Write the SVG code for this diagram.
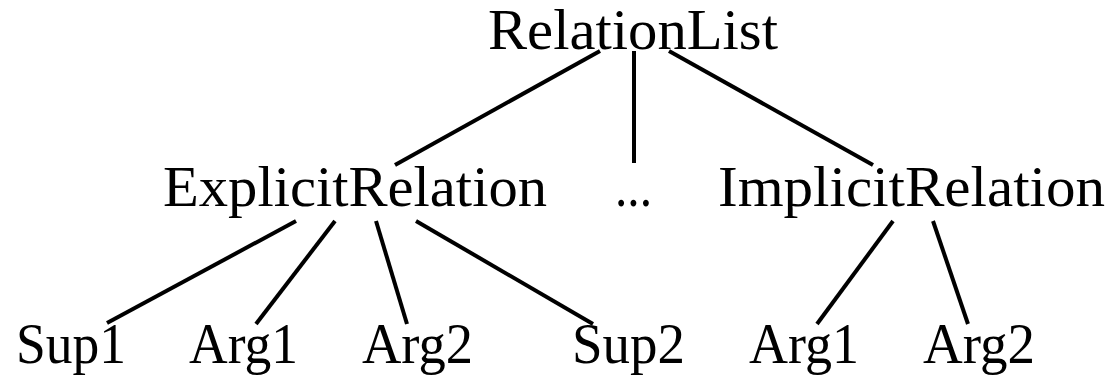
<svg xmlns="http://www.w3.org/2000/svg" width="1115" height="379" viewBox="0 0 1115 379">
<style>
  text { font-family: "Liberation Serif", "Times New Roman", serif; font-size: 57px; fill: #000; }
  .edge { stroke: #000; stroke-width: 4; fill: none; }
</style>
<rect width="1115" height="379" fill="#fff"/>
<g id="connectors">
  <line class="edge" x1="600" y1="51" x2="395" y2="165"/>
  <line class="edge" x1="634" y1="51" x2="634" y2="163"/>
  <line class="edge" x1="669" y1="51" x2="873" y2="165"/>
  <line class="edge" x1="296" y1="221" x2="107" y2="323"/>
  <line class="edge" x1="335" y1="221" x2="256" y2="324"/>
  <line class="edge" x1="376" y1="221" x2="407" y2="324"/>
  <line class="edge" x1="416" y1="221" x2="593" y2="324"/>
  <line class="edge" x1="893" y1="221" x2="817" y2="324"/>
  <line class="edge" x1="933" y1="221" x2="968" y2="324"/>
</g>
<g id="RelationList"><text x="488" y="49" textLength="290" lengthAdjust="spacingAndGlyphs">RelationList</text></g>
<g id="ExplicitRelation"><text x="163" y="206" textLength="384" lengthAdjust="spacingAndGlyphs">ExplicitRelation</text></g>
<g id="ellipsis"><text x="615" y="206" textLength="37" lengthAdjust="spacingAndGlyphs">...</text></g>
<g id="ImplicitRelation"><text x="718" y="206" textLength="387" lengthAdjust="spacingAndGlyphs">ImplicitRelation</text></g>
<g id="Sup1"><text x="16" y="363" textLength="110" lengthAdjust="spacingAndGlyphs">Sup1</text></g>
<g id="Arg1a"><text x="189" y="363" textLength="109" lengthAdjust="spacingAndGlyphs">Arg1</text></g>
<g id="Arg2a"><text x="362" y="363" textLength="111" lengthAdjust="spacingAndGlyphs">Arg2</text></g>
<g id="Sup2"><text x="572" y="363" textLength="113" lengthAdjust="spacingAndGlyphs">Sup2</text></g>
<g id="Arg1b"><text x="749" y="363" textLength="110" lengthAdjust="spacingAndGlyphs">Arg1</text></g>
<g id="Arg2b"><text x="923" y="363" textLength="112" lengthAdjust="spacingAndGlyphs">Arg2</text></g>
</svg>
